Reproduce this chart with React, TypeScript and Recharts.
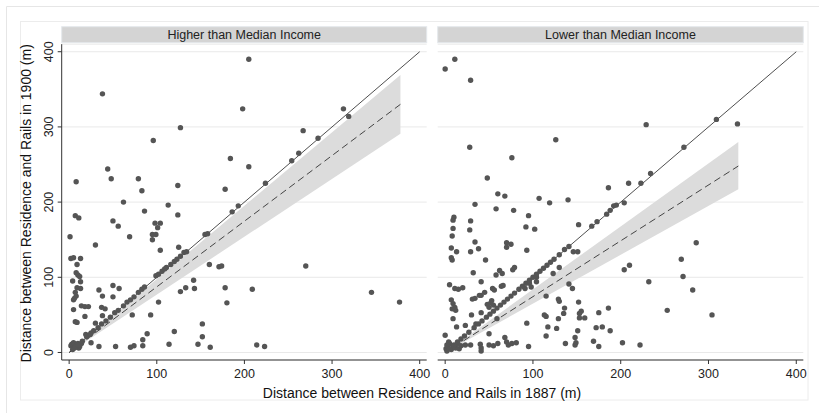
import React from "react";
import { ComposedChart, Scatter, Line, Area, XAxis, YAxis, CartesianGrid, ReferenceLine } from "recharts";

const FONT = "'Liberation Sans', Arial, sans-serif";

const xTicks = [0, 100, 200, 300, 400];
const yTicks = [0, 100, 200, 300, 400];
const panelTitles = ["Higher than Median Income", "Lower than Median Income"];
const xTitle = "Distance between Residence and Rails in 1887 (m)";
const yTitle = "Distance between Residence and Rails in 1900 (m)";

// [distance 1887, distance 1900]
const higherPts: [number, number][] = [
  [205, 390], [38, 344], [198, 324], [313, 324], [319, 314], [127, 299], [96, 282], [267, 295], [284, 285],
  [262, 265], [254, 255], [184, 258], [205, 247], [44, 244], [48, 231], [79, 231], [224, 225], [8, 227],
  [124, 222], [178, 217], [83, 215], [62, 200], [113, 196], [193, 195], [186, 187], [86, 188], [7, 182],
  [11, 179], [124, 183], [50, 175], [98, 172], [104, 172], [56, 168], [101, 166], [155, 157], [158, 158],
  [95, 157], [99, 157], [69, 154], [95, 150], [1, 154], [30, 143], [125, 140], [104, 136], [2, 125], [5, 126],
  [13, 125], [9, 117], [8, 106], [10, 103], [12, 101], [4, 95], [13, 94], [9, 86], [13, 85], [7, 80], [8, 75],
  [6, 72], [5, 70], [5, 57], [7, 41], [9, 40], [14, 62], [18, 61], [22, 61], [18, 48], [34, 83], [38, 75],
  [37, 60], [41, 58], [38, 49], [50, 89], [57, 85], [50, 74], [30, 39], [25, 26], [19, 24], [25, 13], [34, 8],
  [53, 8], [70, 7], [74, 9], [72, 50], [84, 17], [84, 9], [89, 25], [93, 50], [102, 67], [114, 11], [120, 28],
  [127, 81], [133, 86], [142, 96], [143, 85], [160, 117], [171, 114], [174, 115], [178, 86], [180, 66],
  [209, 84], [152, 38], [152, 21], [147, 11], [161, 7], [214, 10], [223, 8], [270, 115], [345, 80], [377, 67],
  [2, 9], [3, 11], [5, 13], [6, 6], [8, 9], [10, 12], [11, 6], [12, 8], [14, 12],
  [4, 4], [7, 7], [10, 10], [15, 15], [20, 21], [24, 24], [28, 29], [33, 33], [37, 38], [42, 42], [47, 47],
  [52, 53], [56, 56], [62, 62], [66, 67], [70, 70], [74, 74], [79, 80], [83, 84], [86, 87], [99, 102],
  [102, 104], [106, 108], [109, 111], [111, 113], [116, 117], [120, 121], [123, 124], [127, 128], [131, 133],
  [134, 134],
];

const lowerPts: [number, number][] = [
  [0, 377], [11, 390], [29, 362], [28, 273], [126, 283], [229, 303], [333, 304], [76, 259], [48, 232],
  [186, 219], [209, 225], [60, 211], [68, 208], [107, 205], [119, 199], [140, 203], [34, 197], [204, 199],
  [58, 191], [78, 189], [10, 180], [9, 176], [29, 175], [95, 182], [9, 165], [92, 167], [102, 164], [28, 163],
  [8, 155], [34, 147], [70, 146], [75, 144], [70, 140], [38, 138], [7, 139], [13, 134], [7, 126], [8, 123],
  [29, 134], [93, 136], [46, 123], [79, 113], [77, 110], [32, 106], [58, 103], [62, 109], [65, 105], [5, 90],
  [11, 85], [15, 84], [20, 86], [41, 94], [54, 85], [56, 83], [64, 88], [66, 89], [45, 80], [41, 76], [39, 76],
  [31, 71], [34, 72], [50, 60], [52, 66], [55, 63], [53, 69], [48, 64], [7, 70], [9, 65], [11, 60], [12, 56],
  [8, 58], [30, 50], [41, 53], [9, 45], [13, 34], [23, 36], [35, 38], [50, 25], [59, 45], [68, 20], [70, 14],
  [72, 10], [76, 12], [81, 13], [93, 39], [95, 8], [115, 48], [127, 32], [115, 22], [0, 23], [23, 10], [29, 10],
  [40, 11], [41, 2], [41, 6], [50, 10], [55, 9], [60, 12], [130, 113], [123, 105], [232, 94], [286, 146],
  [269, 124], [271, 101], [282, 83], [253, 56], [304, 50], [204, 110], [210, 116], [145, 85], [129, 71],
  [130, 68], [152, 67], [136, 59], [135, 52], [129, 45], [155, 55], [153, 52], [153, 46], [159, 46], [186, 59],
  [175, 53], [172, 33], [179, 34], [188, 29], [151, 29], [148, 20], [149, 13], [148, 10], [137, 12], [169, 15],
  [175, 8], [202, 13], [222, 10], [104, 94], [104, 100], [115, 75], [141, 91], [91, 85], [96, 92], [98, 87],
  [113, 50], [117, 34], [152, 170], [136, 137], [146, 134], [151, 134],
  [1, 5], [3, 8], [5, 12], [7, 4], [9, 9], [12, 6], [14, 12], [16, 5], [4, 14], [18, 9], [2, 10],
  [2, 2], [5, 5], [10, 10], [14, 14], [18, 18], [22, 22], [27, 27], [33, 33], [38, 38], [42, 42], [47, 47],
  [51, 51], [55, 55], [59, 59], [63, 63], [67, 67], [71, 71], [75, 75], [79, 79], [84, 84], [88, 88], [92, 92],
  [96, 96], [100, 100], [104, 104], [108, 108], [112, 112], [116, 116], [120, 120], [124, 124], [130, 130],
  [141, 141], [167, 168], [173, 174], [184, 184], [188, 189], [192, 195], [195, 196], [223, 225], [234, 238],
  [272, 273], [309, 310],
];

// fitted line and 95% band: x, fit, lower, upper
const higherFitX = [0, 378];
const higherFit = [0, 330];
const higherLo = [0, 291];
const higherHi = [0, 369];

const lowerFitX = [0, 334];
const lowerFit = [0, 248];
const lowerLo = [0, 217];
const lowerHi = [0, 280];

const toPts = (p: [number, number][]) => p.map(([x, y]) => ({ x, y }));
const toBand = (xs: number[], fit: number[], lo: number[], hi: number[]) =>
  xs.map((x, i) => ({ x, fit: fit[i], range: [lo[i], hi[i]] }));

const Dot = (props: any) => <circle cx={props.cx} cy={props.cy} r={2.7} fill="#555" />;

const YTick = (props: any) => {
  const { x, y, payload } = props;
  const tx = x - 5;
  return (
    <text x={tx} y={y} transform={`rotate(-90 ${tx} ${y})`} textAnchor="middle" fontSize={12.5} fill="#222" fontFamily={FONT}>
      {payload.value}
    </text>
  );
};

function Panel({ pts, band, left, width, margin, showY }: any) {
  return (
    <div style={{ position: "absolute", left, top: 0 }}>
      <ComposedChart width={width} height={413} data={band} margin={margin}>
        <CartesianGrid vertical={false} stroke="#e9e9e9" />
        <XAxis
          type="number"
          dataKey="x"
          domain={[-8.5, 408]}
          ticks={xTicks}
          allowDataOverflow
          height={30}
          tickSize={4}
          tickMargin={5}
          stroke="#333"
          tick={{ fill: "#222", fontSize: 12.5, fontFamily: FONT }}
        />
        <YAxis
          type="number"
          domain={[-10, 410]}
          ticks={yTicks}
          allowDataOverflow
          width={40}
          hide={!showY}
          tickSize={4}
          tickMargin={0}
          stroke="#333"
          tick={<YTick />}
        />
        <Area type="linear" dataKey="range" stroke="none" fill="#dcdcdc" fillOpacity={1} isAnimationActive={false} />
        <Scatter data={pts} dataKey="y" shape={<Dot />} isAnimationActive={false} />
        <Line type="linear" dataKey="fit" stroke="#444" strokeWidth={1} strokeDasharray="7 4" dot={false} isAnimationActive={false} />
        <ReferenceLine segment={[{ x: 0, y: 0 }, { x: 400, y: 400 }]} stroke="#222" strokeWidth={0.8} ifOverflow="visible" />
      </ComposedChart>
    </div>
  );
}

export default function App() {
  return (
    <div style={{ position: "absolute", left: 0, top: 0, width: 819, height: 413, background: "#fff", overflow: "hidden" }}>
      <svg width={819} height={413} style={{ position: "absolute", left: 0, top: 0 }}>
        <line x1={6.5} y1={6.5} x2={819} y2={6.5} stroke="#e6e6e6" />
        <line x1={6.5} y1={6.5} x2={6.5} y2={413} stroke="#e6e6e6" />
        <rect x={20.5} y={21.5} width={787.5} height={378.5} fill="none" stroke="#ececec" />
        <rect x={61.7} y={26.7} width={365} height={16} fill="#d4d4d4" stroke="#e4e8ec" />
        <rect x={437.7} y={26.7} width={365.6} height={16} fill="#d4d4d4" stroke="#e4e8ec" />
        <text x={244.2} y={38.8} textAnchor="middle" fontSize={12.5} fill="#222" fontFamily={FONT}>{panelTitles[0]}</text>
        <text x={620.5} y={38.8} textAnchor="middle" fontSize={12.5} fill="#222" fontFamily={FONT}>{panelTitles[1]}</text>
        <text x={422} y={398} textAnchor="middle" fontSize={14} fill="#111" fontFamily={FONT}>{xTitle}</text>
        <text x={31.5} y={203.3} transform="rotate(-90 31.5 203.3)" textAnchor="middle" fontSize={14} fill="#111" fontFamily={FONT}>{yTitle}</text>
      </svg>
      <Panel
        pts={toPts(higherPts)}
        band={toBand(higherFitX, higherFit, higherLo, higherHi)}
        left={0}
        width={440}
        margin={{ top: 44.2, right: 13.3, bottom: 23, left: 21.7 }}
        showY
      />
      <Panel
        pts={toPts(lowerPts)}
        band={toBand(lowerFitX, lowerFit, lowerLo, lowerHi)}
        left={430}
        width={389}
        margin={{ top: 44.2, right: 15.7, bottom: 23, left: 7.7 }}
        showY={false}
      />
    </div>
  );
}
